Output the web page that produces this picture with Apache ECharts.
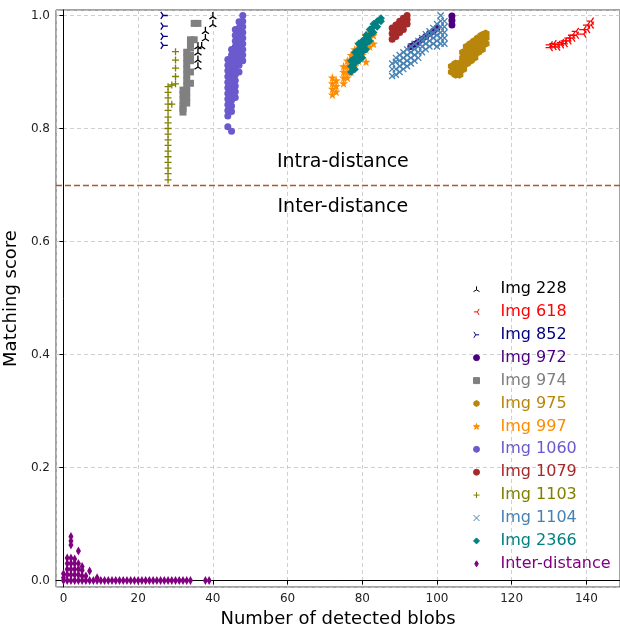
<!DOCTYPE html>
<html>
<head>
<meta charset="utf-8">
<script src="https://cdn.jsdelivr.net/npm/echarts@6/dist/echarts.min.js"></script>
<style>
html, body { margin: 0; padding: 0; background: #fff; }
#chart { width: 620px; height: 626px; }
</style>
</head>
<body>
<div id="chart"></div>
<script>
// points are [number of blobs, matching score]
var img228 = [[40,1.0],[40,0.986],[38,0.974],[38,0.961],[36,0.947],[37,0.947],[36,0.936],[36,0.923],[36,0.911]];
var img618 = [[130,0.943],[130,0.948],[131,0.945],[131,0.95],[132,0.944],[132,0.949],[133,0.948],[133,0.952],
  [134,0.95],[134,0.955],[135,0.955],[135,0.96],[136,0.96],[136,0.965],[137,0.965],[137,0.972],
  [139,0.967],[139,0.975],[140,0.975],[140,0.983],[141,0.983],[141,0.99]];
var img852 = [[27,1.0],[27,0.981],[27,0.963],[27,0.947]];
var img972 = [[93,0.945],[94,0.949],[95,0.953],[96,0.958],[97,0.963],[98,0.968],[99,0.972],[100,0.978],
  [104,0.983],[104,0.991],[104,0.999]];
var img974 = [[35,0.986],[36,0.986],[34,0.957],[35,0.957],[34,0.95],[34,0.943],[33,0.935],[34,0.93],[33,0.925],
  [34,0.92],[33,0.915],[33,0.905],[34,0.9],[33,0.895],[33,0.885],[34,0.88],[33,0.875],[32,0.868],[33,0.865],
  [32,0.86],[33,0.855],[32,0.85],[33,0.845],[32,0.84],[32,0.835],[32,0.829]];
var img975 = [[104,0.9],[104,0.91],[105,0.895],[105,0.905],[105,0.915],[106,0.895],[106,0.905],[106,0.915],
  [107,0.905],[107,0.915],[107,0.925],[107,0.935],[108,0.915],[108,0.925],[108,0.935],[108,0.945],
  [109,0.92],[109,0.93],[109,0.94],[109,0.95],[110,0.925],[110,0.935],[110,0.945],[110,0.955],
  [111,0.935],[111,0.945],[111,0.955],[111,0.96],[112,0.94],[112,0.95],[112,0.96],[112,0.965],
  [113,0.95],[113,0.96],[113,0.968]];
var img997 = [[72,0.86],[72,0.87],[72,0.88],[72,0.89],[73,0.865],[73,0.875],[73,0.885],
  [75,0.88],[75,0.89],[75,0.9],[75,0.91],[76,0.89],[76,0.9],[76,0.91],[76,0.92],
  [77,0.9],[77,0.91],[77,0.92],[77,0.93],[78,0.91],[78,0.925],[78,0.94],[79,0.92],[79,0.935],[79,0.95],
  [80,0.93],[80,0.945],[80,0.955],[81,0.918],[81,0.94],[81,0.955],[81,0.965],[82,0.945],[82,0.96],[82,0.97],
  [83,0.95],[83,0.965]];
var img1060 = [[48,1.0],[48,0.99],[48,0.98],[48,0.97],[48,0.96],[48,0.95],[48,0.94],[48,0.93],[48,0.92],
  [47,0.989],[47,0.978],[47,0.967],[47,0.956],[47,0.945],[47,0.934],[47,0.923],[47,0.912],[47,0.9],
  [46,0.975],[46,0.965],[46,0.955],[46,0.945],[46,0.935],[46,0.925],[46,0.915],[46,0.905],[46,0.895],
  [46,0.885],[46,0.875],[46,0.865],[46,0.855],
  [45,0.94],[45,0.93],[45,0.92],[45,0.91],[45,0.9],[45,0.89],[45,0.88],[45,0.87],[45,0.86],[45,0.85],
  [45,0.84],[45,0.83],
  [44,0.922],[44,0.912],[44,0.902],[44,0.892],[44,0.882],[44,0.872],[44,0.862],[44,0.852],[44,0.842],
  [44,0.832],[44,0.822],
  [44,0.803],[45,0.795]];
var img1079 = [[88,0.958],[88,0.968],[88,0.978],[89,0.963],[89,0.973],[89,0.983],[90,0.97],[90,0.98],[90,0.99],
  [91,0.975],[91,0.985],[91,0.995],[92,0.985],[92,0.993],[92,1.0]];
var img1103 = [[30,0.936],[30,0.921],[30,0.907],[30,0.892],[29,0.877],[30,0.879],[28,0.874],[28,0.864],
  [28,0.854],[29,0.843],[28,0.843],[28,0.832],[28,0.82],[28,0.81],[28,0.8],[28,0.79],[28,0.78],[28,0.77],
  [28,0.76],[28,0.75],[28,0.74],[28,0.73],[28,0.72],[28,0.709]];
var img1104 = [[88,0.893],[88,0.905],[88,0.915],[89,0.895],[89,0.905],[89,0.918],[89,0.925],
  [90,0.9],[90,0.91],[90,0.92],[90,0.93],[91,0.905],[91,0.915],[91,0.925],[91,0.935],
  [92,0.91],[92,0.92],[92,0.93],[92,0.94],[93,0.915],[93,0.925],[93,0.935],[93,0.945],
  [94,0.92],[94,0.93],[94,0.94],[94,0.95],[95,0.925],[95,0.935],[95,0.945],[95,0.955],
  [96,0.935],[96,0.945],[96,0.955],[96,0.96],[97,0.94],[97,0.95],[97,0.96],[97,0.967],
  [98,0.945],[98,0.955],[98,0.965],[98,0.972],[99,0.95],[99,0.96],[99,0.97],[99,0.978],
  [100,0.945],[100,0.955],[100,0.965],[100,0.975],[100,0.985],
  [101,0.95],[101,0.96],[101,0.97],[101,0.98],[101,0.99],[101,1.0],
  [102,0.95],[102,0.96],[102,0.97],[102,0.98],[102,0.99]];
var img2366 = [[77,0.9],[77,0.91],[77,0.92],[78,0.905],[78,0.915],[78,0.925],[78,0.935],
  [79,0.92],[79,0.93],[79,0.94],[79,0.95],[80,0.925],[80,0.935],[80,0.945],[80,0.955],
  [81,0.94],[81,0.95],[81,0.96],[81,0.965],[82,0.955],[82,0.965],[82,0.975],
  [83,0.97],[83,0.98],[83,0.985],[84,0.98],[84,0.99],[85,0.99],[85,0.995]];
var interBase = [[0,0],[1,0],[2,0],[3,0],[4,0],[5,0],[6,0],[7,0],[8,0],[9,0],[10,0],[11,0],[12,0],[13,0],
  [14,0],[15,0],[16,0],[17,0],[18,0],[19,0],[20,0],[21,0],[22,0],[23,0],[24,0],[25,0],[26,0],[27,0],
  [28,0],[29,0],[30,0],[31,0],[32,0],[33,0],[34,0],[38,0],[39,0]];
var interClump = [[0,0.005],[0,0.012],[1,0.01],[1,0.02],[1,0.03],[1,0.04],
  [2,0.01],[2,0.02],[2,0.03],[2,0.04],[2,0.063],[2,0.07],[2,0.078],
  [3,0.01],[3,0.02],[3,0.03],[3,0.038],[4,0.01],[4,0.02],[4,0.03],[4,0.052],
  [5,0.008],[5,0.018],[5,0.025],[6,0.008],[7,0.017],[9,0.005]];

var names = ['Img 228','Img 618','Img 852','Img 972','Img 974','Img 975','Img 997',
  'Img 1060','Img 1079','Img 1103','Img 1104','Img 2366','Inter-distance'];
var values = [img228, img618, img852, img972, img974, img975, img997,
  img1060, img1079, img1103, img1104, img2366, interBase.concat(interClump)];

function polyPath(n, rOut, rIn) {
  var p = [];
  var k = rIn ? n * 2 : n;
  for (var i = 0; i < k; i++) {
    var r = (rIn && i % 2) ? rIn : rOut;
    var a = -Math.PI / 2 + i * 2 * Math.PI / k;
    p.push((i ? 'L' : 'M') + (r * Math.cos(a)).toFixed(2) + ',' + (r * Math.sin(a)).toFixed(2));
  }
  return 'path://' + p.join('') + 'Z';
}

var triUp = 'path://M0,0L0,-10M0,0L-8.66,5M0,0L8.66,5';
var triLeft = 'path://M0,0L-10,0M0,0L5,-8.66M0,0L5,8.66';
var triRight = 'path://M0,0L10,0M0,0L-5,-8.66M0,0L-5,8.66';
var plus = 'path://M-5,0L5,0M0,-5L0,5';
var cross = 'path://M-5,-5L5,5M-5,5L5,-5';
var thinDiamond = 'path://M0,-10L6,0L0,10L-6,0Z';

var looks = [
  { color: '#000000', symbol: triUp, size: 7, stroke: true },
  { color: '#ff0000', symbol: triLeft, size: 7, stroke: true },
  { color: '#000080', symbol: triRight, size: 7, stroke: true },
  { color: '#4b0082', symbol: 'circle', size: 7 },
  { color: '#808080', symbol: 'rect', size: 7 },
  { color: '#b8860b', symbol: polyPath(6, 10), size: 8 },
  { color: '#ff8c00', symbol: polyPath(5, 10, 4), size: 9 },
  { color: '#6a5acd', symbol: 'circle', size: 7 },
  { color: '#a52a2a', symbol: 'circle', size: 7 },
  { color: '#808000', symbol: plus, size: 7, stroke: true },
  { color: '#4682b4', symbol: cross, size: 6, stroke: true },
  { color: '#008080', symbol: 'diamond', size: 8 },
  { color: '#800080', symbol: thinDiamond, size: [5, 9] }
];

var series = names.map(function (n, i) {
  var lk = looks[i];
  return {
    name: n,
    type: 'scatter',
    data: values[i],
    symbol: lk.symbol,
    symbolSize: lk.size,
    itemStyle: {
      color: lk.color,
      opacity: 1,
      borderColor: lk.color,
      borderWidth: lk.stroke ? 1.3 : 0
    }
  };
});

// threshold line + region labels
series.push({
  name: 'threshold',
  type: 'scatter',
  data: [],
  silent: true,
  markLine: {
    silent: true,
    symbol: ['none', 'none'],
    label: { show: false },
    lineStyle: { color: '#b5532a', type: [6, 3], width: 1.3 },
    data: [{ yAxis: 0.7 }]
  },
  markPoint: {
    silent: true,
    symbol: 'circle',
    symbolSize: 1,
    itemStyle: { color: 'transparent' },
    label: { show: true, position: 'inside', fontSize: 19, color: '#000', fontFamily: 'DejaVu Sans' },
    data: [
      { coord: [74.8, 0.741], label: { formatter: 'Intra-distance' } },
      { coord: [74.8, 0.661], label: { formatter: 'Inter-distance' } }
    ]
  }
});

var chart = echarts.init(document.getElementById('chart'));
var font = 'DejaVu Sans';

var option = {
  animation: false,
  textStyle: { fontFamily: font },
  grid: {
    left: 56, right: 0, top: 10, bottom: 39,
    outerBoundsMode: 'none',
    containLabel: false,
    show: true, borderColor: '#444', borderWidth: 1
  },
  legend: {
    orient: 'vertical',
    left: 468,
    top: 276,
    itemWidth: 6,
    itemHeight: 6,
    itemGap: 6.9,
    selectedMode: false,
    itemStyle: { borderWidth: 1 },
    textStyle: { fontSize: 16, lineHeight: 16, fontFamily: font, padding: [0, 0, 0, 16] },
    data: names.map(function (n, i) {
      return { name: n, textStyle: { color: looks[i].color } };
    })
  },
  xAxis: {
    type: 'value',
    min: -2,
    max: 149,
    splitNumber: 8,
    name: 'Number of detected blobs',
    nameLocation: 'middle',
    nameGap: 18,
    nameTextStyle: { fontSize: 18, color: '#000', fontFamily: font },
    axisLine: { lineStyle: { color: '#000', width: 1 } },
    axisTick: { length: 4, lineStyle: { color: '#000' } },
    axisLabel: { fontSize: 12, color: '#222', margin: 6, showMinLabel: false, showMaxLabel: false },
    splitLine: { show: true, lineStyle: { color: '#c4c4c4', type: [4, 3], width: 0.8 } }
  },
  yAxis: {
    type: 'value',
    min: -0.0115,
    max: 1.0097,
    splitNumber: 5,
    name: 'Matching score',
    nameLocation: 'middle',
    nameRotate: 90,
    nameGap: 29,
    nameTextStyle: { fontSize: 18, color: '#000', fontFamily: font },
    axisLine: { show: true, lineStyle: { color: '#000', width: 1 } },
    axisTick: { show: true, length: 4, lineStyle: { color: '#000' } },
    axisLabel: {
      fontSize: 12, color: '#222', margin: 6, showMinLabel: false, showMaxLabel: false,
      formatter: function (v) { return v.toFixed(1); }
    },
    splitLine: { show: true, lineStyle: { color: '#c4c4c4', type: [4, 3], width: 0.8 } }
  },
  series: series
};

chart.setOption(option);
</script>
</body>
</html>
